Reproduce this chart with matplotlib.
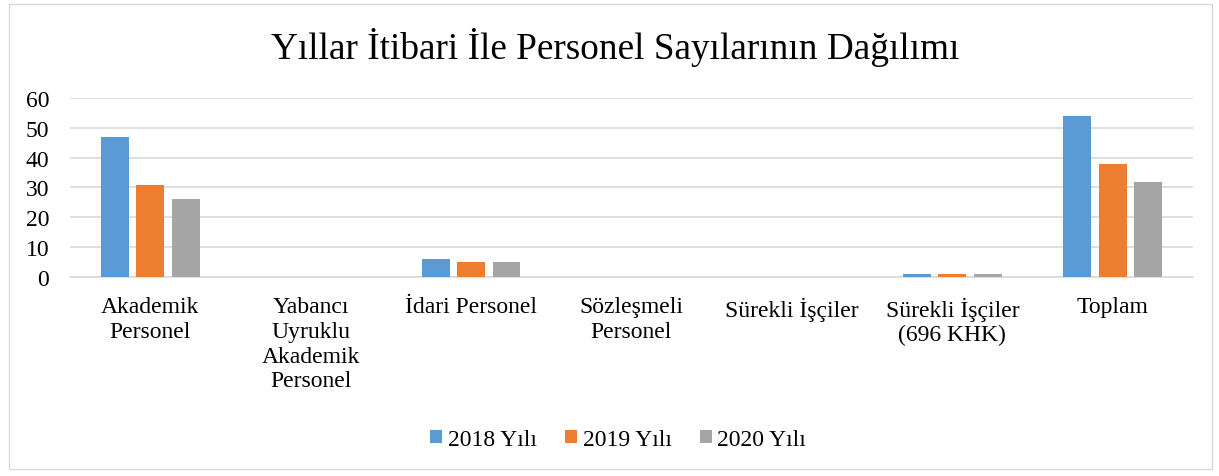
import numpy as np
import matplotlib.pyplot as plt
from matplotlib.patches import Rectangle

plt.rcParams['font.family'] = ['Liberation Serif', 'DejaVu Serif']

categories = ['Akademik\nPersonel', 'Yabancı\nUyruklu\nAkademik\nPersonel', 'İdari Personel',
              'Sözleşmeli\nPersonel', 'Sürekli İşçiler', 'Sürekli İşçiler\n(696 KHK)', 'Toplam']
y2018 = [47, 0, 6, 0, 0, 1, 54]
y2019 = [31, 0, 5, 0, 0, 1, 38]
y2020 = [26, 0, 5, 0, 0, 1, 32]
series = ['2018 Yılı', '2019 Yılı', '2020 Yılı']
colors = ['#5B9BD5', '#ED7D31', '#A5A5A5']

fig = plt.figure(figsize=(12.19, 4.77), dpi=100)
fig.patches.append(Rectangle((0.007, 0.015), 0.987, 0.975, transform=fig.transFigure,
                             fill=False, edgecolor='#d9d9d9', linewidth=1))
ax = fig.add_axes([0.0574, 0.4172, 0.9213, 0.3753])

x = np.arange(len(categories))
w = 0.174
step = 0.221
for i, (vals, name, c) in enumerate(zip([y2018, y2019, y2020], series, colors)):
    ax.bar(x + (i - 1) * step, vals, w, color=c, label=name, zorder=3)

ax.set_xlim(-0.5, len(categories) - 0.5)
ax.set_ylim(0, 60)
ax.set_yticks(range(0, 61, 10))
ax.set_xticks(x)
ax.set_xticklabels(categories, fontsize=17, linespacing=1.23)
ax.tick_params(axis='y', labelsize=17, length=0, pad=15)
ax.tick_params(axis='x', length=0, pad=14)
ax.grid(axis='y', color='#d9d9d9', linewidth=1.2, zorder=0)
for s in ['top', 'right', 'left']:
    ax.spines[s].set_visible(False)
ax.spines['bottom'].set_color('#d9d9d9')
ax.spines['bottom'].set_linewidth(1.2)

fig.text(0.505, 0.9, 'Yıllar İtibari İle Personel Sayılarının Dağılımı',
         ha='center', va='center', fontsize=26.8)

fig.legend(loc='center', bbox_to_anchor=(0.507, 0.077), ncol=3, frameon=False,
           fontsize=17, handlelength=0.5, handleheight=0.5, handletextpad=0.25,
           columnspacing=1.2)

fig.savefig('out.png', dpi=100)
